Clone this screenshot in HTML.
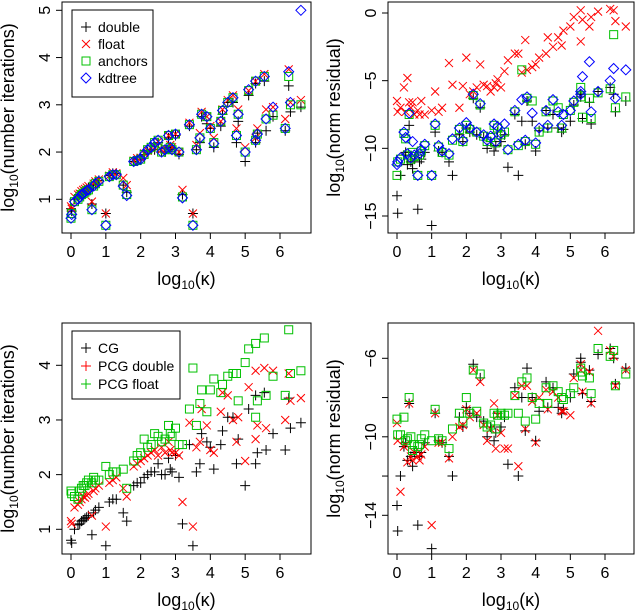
<!DOCTYPE html>
<html><head><meta charset="utf-8"><style>body{margin:0;background:#fff}svg{display:block;font-family:"Liberation Sans",sans-serif}</style></head>
<body>
<svg id="chart" width="638" height="610" viewBox="0 0 638 610" xmlns="http://www.w3.org/2000/svg"></svg>
<script>
const kappa=[0,0.02,0.1,0.2,0.25,0.3,0.35,0.4,0.45,0.5,0.6,0.65,0.7,0.8,1.0,1.1,1.2,1.3,1.5,1.6,1.8,1.9,2.0,2.1,2.2,2.3,2.4,2.5,2.6,2.7,2.8,2.85,2.9,3.0,3.1,3.2,3.4,3.5,3.6,3.7,3.75,3.9,4.0,4.1,4.3,4.35,4.5,4.65,4.75,4.8,5.0,5.1,5.3,5.35,5.3,5.55,5.6,5.8,6.15,6.3,6.25,6.6];
const iterDouble=[0.8,0.75,1.0,1.08,1.1,1.15,1.17,1.2,1.22,1.25,0.9,1.3,1.35,1.4,0.7,1.5,1.55,1.55,1.3,1.15,1.8,1.85,1.85,1.95,2.0,2.05,2.05,2.2,2.0,2.0,2.3,2.1,2.05,2.35,1.95,1.1,2.55,0.7,2.05,2.2,2.75,2.6,2.5,2.1,2.55,2.8,3.05,3.05,2.2,2.65,1.8,3.2,2.2,2.4,3.45,3.5,2.45,2.75,2.45,2.85,3.4,2.95];
const iterFloat=[0.85,0.8,1.05,1.1,1.12,1.17,1.2,1.22,1.25,1.28,0.95,1.33,1.38,1.42,0.7,1.5,1.57,1.55,1.45,1.3,1.82,1.87,1.88,1.97,2.03,2.08,2.1,2.22,2.05,2.05,2.35,2.15,2.1,2.38,2.0,1.2,2.62,0.7,2.15,2.4,2.85,2.75,2.55,2.3,2.65,2.9,3.1,3.2,2.5,2.9,2.1,3.3,2.3,2.5,3.5,3.65,2.9,2.95,2.7,3.05,3.75,3.1];
const iterAnchors=[0.6,0.7,0.95,1.0,1.05,1.1,1.12,1.15,1.18,1.2,0.78,1.28,1.33,1.38,0.45,1.48,1.52,1.52,1.3,1.1,1.8,1.82,1.85,1.95,2.05,2.1,2.2,2.25,2.0,2.05,2.35,2.1,2.05,2.38,2.0,1.05,2.58,0.45,2.05,2.3,2.8,2.75,2.5,2.2,2.65,2.88,3.05,3.15,2.35,2.8,2.0,3.3,2.25,2.38,3.5,3.6,2.7,2.78,2.5,3.0,3.6,3.0];
const iterKdtree=[0.6,0.68,0.95,1.0,1.05,1.1,1.12,1.15,1.18,1.2,0.78,1.28,1.33,1.38,0.45,1.48,1.52,1.52,1.28,1.08,1.8,1.82,1.85,1.95,2.05,2.1,2.2,2.25,2.0,2.05,2.35,2.1,2.05,2.38,2.0,1.03,2.58,0.45,2.05,2.3,2.8,2.75,2.5,2.18,2.65,2.88,3.05,3.15,2.35,2.8,2.0,3.32,2.25,2.38,3.5,3.6,2.7,2.95,2.5,3.05,3.7,5.0];
const iterPcgDouble=[1.15,1.1,1.4,1.45,1.5,1.55,1.6,1.58,1.62,1.65,1.25,1.7,1.75,1.8,1.05,1.85,1.9,1.95,1.75,1.6,2.15,2.2,2.25,2.3,2.35,2.4,2.45,2.35,2.5,2.4,2.6,2.45,2.4,2.4,2.35,1.5,2.95,1.05,2.5,2.6,3.2,2.9,2.45,2.4,3.15,3.5,3.45,3.0,2.6,3.05,2.25,3.6,2.65,2.9,3.9,3.95,2.85,3.9,3.0,3.35,3.85,3.4];
const iterPcgFloat=[1.7,1.65,1.6,1.55,1.7,1.75,1.8,1.8,1.85,1.9,1.85,1.95,1.9,1.9,2.15,2.0,2.05,2.05,2.1,1.75,2.25,2.35,2.4,2.65,2.5,2.55,2.75,2.7,2.6,2.65,2.9,2.75,2.7,2.85,2.55,2.55,3.2,3.95,2.9,3.3,3.55,3.15,3.55,3.75,3.5,3.65,3.8,3.85,3.85,3.35,4.05,4.3,3.05,3.35,4.4,4.5,3.45,3.8,3.45,3.85,4.65,3.9];
const resDouble=[-13.5,-14.8,-12,-10.5,-10.3,-11.2,-8.3,-11,-11.5,-10.8,-14.5,-11,-10.8,-10.3,-15.7,-8.8,-10.2,-10.3,-11,-12,-9,-9.5,-8.5,-8.8,-6.3,-9,-7,-9.2,-10,-9.5,-10.2,-9.8,-8.8,-9.5,-9,-11.4,-7.5,-12,-8,-9.7,-6.5,-8,-10.2,-8.7,-7.2,-8.5,-7.5,-8.5,-8.8,-8.6,-8,-6.8,-6.2,-7.8,-6,-6.6,-8.2,-5.8,-5.5,-7.3,-6,-6.5];
const resFloat=[-6.5,-7.3,-7,-5.5,-7.3,-4.8,-6.6,-7,-6.6,-7.5,-7.2,-7.5,-6.5,-7.5,-7.2,-5.8,-7.3,-7,-3.7,-5.3,-7,-5.4,-3.3,-6,-5.8,-5.5,-3.8,-5.3,-5.4,-5.8,-5.5,-5.2,-4.9,-5.5,-4.3,-3.5,-3.0,-3.0,-4.4,-2.0,-4.2,-4.0,-3.8,-3.3,-3.0,-1.8,-2.5,-1.8,-2.4,-1.3,-1.0,-0.3,-2.1,-0.5,0.2,-1.0,-0.3,0.1,0.3,-0.6,0.2,-1.0];
const resAnchors=[-12,-11,-10.8,-8.9,-9.3,-10.5,-7.5,-10.8,-10.3,-10.6,-12,-10.5,-10.2,-9.8,-12,-8.3,-9.9,-10.3,-10.5,-9.4,-8.6,-9.5,-8.3,-8.6,-6.1,-8.8,-6.8,-9.1,-9.5,-9.2,-8.3,-9.6,-8.5,-9.0,-8.8,-10.1,-7.3,-9.8,-4.2,-9.5,-6.3,-6.5,-9.7,-8.8,-7.3,-8.5,-6.5,-7.0,-8.5,-7.5,-7.2,-6.6,-6.2,-7.7,-5.5,-6.3,-7.8,-5.9,-5.6,-7.0,-1.6,-6.2];
const resKdtree=[-11.2,-11,-10.7,-8.8,-9.2,-10.4,-7.4,-10.7,-9.5,-10.5,-12,-10.4,-10.1,-9.7,-12,-8.2,-9.8,-10.2,-10.4,-9.3,-8.5,-9.4,-8.1,-8.5,-6.0,-8.8,-6.7,-9.0,-9.4,-9.1,-8.2,-9.5,-8.4,-8.9,-8.2,-10.1,-7.2,-9.7,-6.4,-9.4,-6.2,-7.4,-9.6,-8.5,-7.2,-8.3,-6.4,-7.3,-8.3,-7.5,-7.2,-6.5,-6.0,-4.7,-5.8,-3.6,-7.3,-5.8,-5.0,-6.3,-4.1,-4.2];
const resPcgDouble=[-9.3,-10.2,-12.8,-10.5,-10.4,-11.3,-8.3,-11,-11.2,-10.8,-11,-11.2,-10.9,-10.5,-14.5,-8.8,-10.3,-10.3,-11.1,-10,-9.5,-9.4,-8.6,-9,-6.6,-8.8,-7.2,-9.4,-10.2,-9.6,-8.3,-10.6,-8.9,-9.8,-10.6,-10.6,-7.9,-11.5,-7.4,-9.6,-7.4,-8.2,-10.3,-8.0,-7.6,-8.6,-7.7,-8.0,-8.7,-8.7,-8.9,-7.0,-6.3,-7.7,-6.6,-6.7,-8.3,-4.6,-5.6,-7.4,-5.9,-6.6];
const resPcgFloat=[-9.1,-9.9,-9.9,-9.0,-10.2,-10.1,-8.0,-10.0,-10.7,-10.4,-10.5,-10.4,-10.1,-9.9,-10.2,-8.6,-10.1,-10.2,-10.6,-9.6,-8.8,-9.2,-8.0,-8.8,-6.6,-8.7,-6.8,-9.3,-9.5,-9.4,-8.8,-9.6,-8.9,-8.8,-8.9,-8.8,-7.9,-8.8,-7.2,-9.2,-7.0,-8.0,-9.1,-8.3,-7.5,-8.3,-7.4,-7.7,-8.0,-8.1,-7.8,-7.5,-6.7,-6.9,-6.5,-7.0,-7.8,-5.5,-5.9,-7.4,-5.6,-6.8];
const xTicks=[0,1,2,3,4,5,6];
const yTicks1=[1,2,3,4,5], yTicks2=[0,-5,-10,-15], yTicks3=[1,2,3,4], yTicks4=[-6,-8,-10,-12,-14];

const NS="http://www.w3.org/2000/svg", svg=document.getElementById('chart');
function mk(tag,attrs,parent){const e=document.createElementNS(NS,tag);for(const k in attrs)e.setAttribute(k,attrs[k]);(parent||svg).appendChild(e);return e;}
function lin(d0,d1,r0,r1){return v=>r0+(v-d0)*(r1-r0)/(d1-d0);}
function marker(g,type,x,y,c){
  let e;
  if(type==='plus'){e=mk('path',{d:`M${x-5},${y}H${x+5}M${x},${y-5}V${y+5}`,stroke:c,fill:'none'},g);}
  else if(type==='cross'){e=mk('path',{d:`M${x-4},${y-4}L${x+4},${y+4}M${x-4},${y+4}L${x+4},${y-4}`,stroke:c,fill:'none'},g);}
  else if(type==='square'){e=mk('rect',{x:x-4,y:y-4,width:8,height:8,stroke:c,fill:'none'},g);}
  else {e=mk('path',{d:`M${x},${y-5}L${x+5},${y}L${x},${y+5}L${x-5},${y}Z`,stroke:c,fill:'none'},g);}
  
  
}
function panel(id,box,xs,ys,yticks,ylabel,series,legend){
  const g=mk('g',{});
  
  
  const sx=lin(xs[0],xs[1],xs[2],xs[3]), sy=lin(ys[0],ys[1],ys[2],ys[3]);
  const b=mk('rect',{x:box[0],y:box[1],width:box[2]-box[0],height:box[3]-box[1],fill:'none',stroke:'#000'},g);
  
  xTicks.forEach(t=>{const X=sx(t);mk('line',{x1:X,x2:X,y1:box[3],y2:box[3]+6,stroke:'#000'},g);
    const tx=mk('text',{x:X,y:box[3]+24,'text-anchor':'middle','font-size':16},g);tx.textContent=t;
    });
  yticks.forEach((t,i)=>{const Y=sy(t);mk('line',{x1:box[0]-6,x2:box[0],y1:Y,y2:Y,stroke:'#000'},g);
    if(id==='panel-residual-pcg'&&i%2===1)return;
    const tx=mk('text',{x:box[0]-12,y:Y,'text-anchor':'middle','font-size':16,transform:`rotate(-90 ${box[0]-12} ${Y})`},g);tx.textContent=(t<0?'\u2212'+(-t):t);
    });
  const xt=mk('text',{x:(box[0]+box[2])/2,y:box[3]+52,'text-anchor':'middle','font-size':18},g);
  xt.innerHTML='log<tspan font-size="12" dy="4">10</tspan><tspan dy="-4">(\u03ba)</tspan>';
  
  const cy=(box[1]+box[3])/2, lx=box[0]-48;
  const yt=mk('text',{x:lx,y:cy,'text-anchor':'middle','font-size':18,transform:`rotate(-90 ${lx} ${cy})`},g);
  yt.innerHTML='log<tspan font-size="12" dy="4">10</tspan><tspan dy="-4">('+ylabel+')</tspan>';
  
  series.forEach(s=>{const sg=mk('g',{},g);
    kappa.forEach((k,i)=>marker(sg,s.type,sx(k),sy(s.data[i]),s.color));});
  if(legend){
    const lg=mk('g',{},g);
    mk('rect',{x:legend.x,y:legend.y,width:legend.w,height:legend.h,fill:'#fff',stroke:'#000'},lg);
    legend.items.forEach((it,i)=>{const Y=legend.y+17+i*legend.dy;
      const eg=mk('g',{},lg);
      marker(eg,it.type,legend.x+14,Y,it.color);
      const t=mk('text',{x:legend.x+26,y:Y+5,'font-size':14},eg);t.textContent=it.label;});
  }
}
const C={k:'#000',r:'#ff0000',g:'#00c000',b:'#0000ff'};
panel('panel-iterations-methods',[62,2,311,233],[0,6,71,280],[1,5,199.3,10.3],yTicks1,'number iterations',
 [{name:'double',type:'plus',color:C.k,data:iterDouble},{name:'float',type:'cross',color:C.r,data:iterFloat},
  {name:'anchors',type:'square',color:C.g,data:iterAnchors},{name:'kdtree',type:'diamond',color:C.b,data:iterKdtree}],
 {x:72,y:10,w:81,h:87,dy:17,items:[{type:'plus',color:C.k,label:'double'},{type:'cross',color:C.r,label:'float'},{type:'square',color:C.g,label:'anchors'},{type:'diamond',color:C.b,label:'kdtree'}]});
panel('panel-residual-methods',[388,2,634,233],[0,6,397,605],[0,-15,13,216],yTicks2,'norm residual',
 [{name:'double',type:'plus',color:C.k,data:resDouble},{name:'float',type:'cross',color:C.r,data:resFloat},
  {name:'anchors',type:'square',color:C.g,data:resAnchors},{name:'kdtree',type:'diamond',color:C.b,data:resKdtree}],null);
panel('panel-iterations-pcg',[62,323,311,554],[0,6,71,280],[1,4,529.3,365.3],yTicks3,'number iterations',
 [{name:'cg',type:'plus',color:C.k,data:iterDouble},{name:'pcg-double',type:'cross',color:C.r,data:iterPcgDouble},
  {name:'pcg-float',type:'square',color:C.g,data:iterPcgFloat}],
 {x:72,y:331,w:108,h:68,dy:18,items:[{type:'plus',color:C.k,label:'CG'},{type:'plus',color:C.r,label:'PCG double'},{type:'plus',color:C.g,label:'PCG float'}]});
panel('panel-residual-pcg',[388,323,634,554],[0,6,397,605],[-6,-14,358.3,515.3],yTicks4,'norm residual',
 [{name:'cg',type:'plus',color:C.k,data:resDouble},{name:'pcg-double',type:'cross',color:C.r,data:resPcgDouble},
  {name:'pcg-float',type:'square',color:C.g,data:resPcgFloat}],null);
</script>
</body></html>
